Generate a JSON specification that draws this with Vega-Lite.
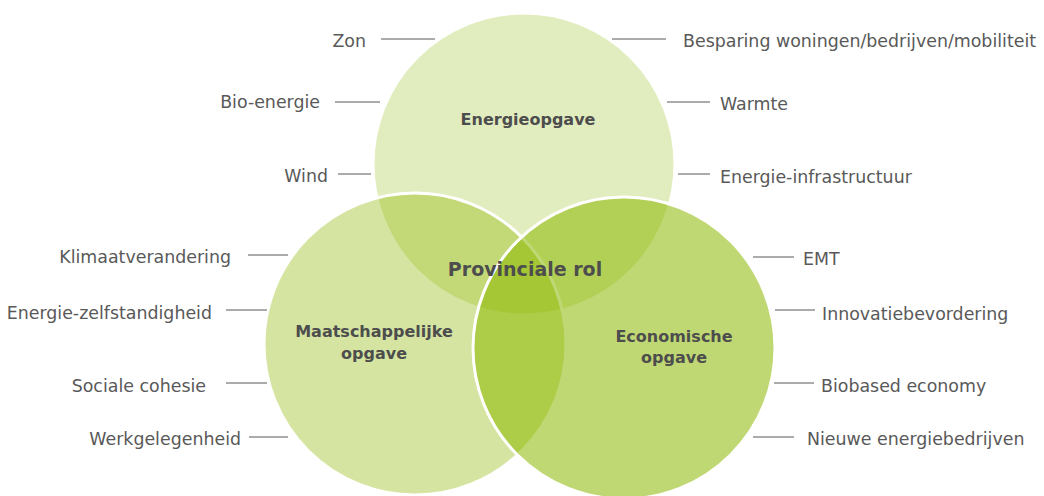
{
  "$schema": "https://vega.github.io/schema/vega-lite/v6.json",
  "width": 1044,
  "height": 496,
  "padding": 0,
  "autosize": {"type": "none"},
  "background": "white",
  "config": {"view": {"stroke": null}},
  "datasets": {
    "circles": [
      {"name": "Energieopgave", "cx": 524, "cy": 164, "weight": 1},
      {"name": "Maatschappelijke opgave", "cx": 415, "cy": 344, "weight": 1},
      {"name": "Economische opgave", "cx": 624, "cy": 348, "weight": 1}
    ],
    "labels": [
      {"label": "Zon", "side": "L", "tx": 366, "ty": 42, "lx1": 381, "lx2": 435, "ly": 39},
      {"label": "Bio-energie", "side": "L", "tx": 320, "ty": 103, "lx1": 335, "lx2": 380, "ly": 102},
      {"label": "Wind", "side": "L", "tx": 328, "ty": 177, "lx1": 338, "lx2": 371, "ly": 174},
      {"label": "Klimaatverandering", "side": "L", "tx": 231, "ty": 258, "lx1": 248, "lx2": 288, "ly": 255},
      {"label": "Energie-zelfstandigheid", "side": "L", "tx": 212, "ty": 314, "lx1": 226, "lx2": 267, "ly": 310},
      {"label": "Sociale cohesie", "side": "L", "tx": 206, "ty": 387, "lx1": 226, "lx2": 267, "ly": 383},
      {"label": "Werkgelegenheid", "side": "L", "tx": 241, "ty": 440, "lx1": 249, "lx2": 288, "ly": 437},
      {"label": "Besparing woningen/bedrijven/mobiliteit", "side": "R", "tx": 683, "ty": 42, "lx1": 612, "lx2": 666, "ly": 39},
      {"label": "Warmte", "side": "R", "tx": 720, "ty": 105, "lx1": 667, "lx2": 710, "ly": 102},
      {"label": "Energie-infrastructuur", "side": "R", "tx": 720, "ty": 178, "lx1": 678, "lx2": 710, "ly": 174},
      {"label": "EMT", "side": "R", "tx": 803, "ty": 260, "lx1": 753, "lx2": 794, "ly": 257},
      {"label": "Innovatiebevordering", "side": "R", "tx": 822, "ty": 315, "lx1": 775, "lx2": 815, "ly": 310},
      {"label": "Biobased economy", "side": "R", "tx": 821, "ty": 387, "lx1": 774, "lx2": 814, "ly": 383},
      {"label": "Nieuwe energiebedrijven", "side": "R", "tx": 807, "ty": 440, "lx1": 753, "lx2": 794, "ly": 437}
    ],
    "titles": [
      {"text": "Energieopgave", "kind": "region", "x": 528, "y": 120},
      {"text": "Maatschappelijke", "kind": "region", "x": 374, "y": 332},
      {"text": "opgave", "kind": "region", "x": 374, "y": 354},
      {"text": "Economische", "kind": "region", "x": 674, "y": 337},
      {"text": "opgave", "kind": "region", "x": 674, "y": 358},
      {"text": "Provinciale rol", "kind": "center", "x": 525, "y": 270}
    ]
  },
  "layer": [
    {
      "data": {"name": "circles"},
      "mark": {"type": "point", "shape": "circle", "filled": true, "stroke": "white", "strokeWidth": 3, "strokeOpacity": 1, "opacity": 1},
      "encoding": {
        "x": {"field": "cx", "type": "quantitative", "scale": {"domain": [0, 1044], "nice": false, "zero": false}, "axis": null},
        "y": {"field": "cy", "type": "quantitative", "scale": {"domain": [0, 496], "nice": false, "zero": false, "reverse": true}, "axis": null},
        "size": {"field": "weight", "type": "quantitative", "scale": {"domain": [0, 1], "range": [0, 91204]}, "legend": null},
        "fill": {"field": "name", "type": "nominal", "scale": {"domain": ["Energieopgave", "Maatschappelijke opgave", "Economische opgave"], "range": ["rgba(140,184,0,0.25)", "rgba(140,184,0,0.37)", "rgba(140,184,0,0.55)"]}, "legend": null}
      }
    },
    {
      "data": {"name": "labels"},
      "mark": {"type": "rule", "color": "#595959", "strokeWidth": 1},
      "encoding": {
        "x": {"field": "lx1", "type": "quantitative", "scale": {"domain": [0, 1044], "nice": false, "zero": false}, "axis": null},
        "x2": {"field": "lx2"},
        "y": {"field": "ly", "type": "quantitative", "scale": {"domain": [0, 496], "nice": false, "zero": false, "reverse": true}, "axis": null}
      }
    },
    {
      "data": {"name": "labels"},
      "transform": [{"filter": "datum.side === 'L'"}],
      "mark": {"type": "text", "align": "right", "baseline": "middle", "font": "DejaVu Sans", "fontSize": 17.4, "color": "#595959"},
      "encoding": {
        "x": {"field": "tx", "type": "quantitative", "scale": {"domain": [0, 1044], "nice": false, "zero": false}, "axis": null},
        "y": {"field": "ty", "type": "quantitative", "scale": {"domain": [0, 496], "nice": false, "zero": false, "reverse": true}, "axis": null},
        "text": {"field": "label"}
      }
    },
    {
      "data": {"name": "labels"},
      "transform": [{"filter": "datum.side === 'R'"}],
      "mark": {"type": "text", "align": "left", "baseline": "middle", "font": "DejaVu Sans", "fontSize": 17.4, "color": "#595959"},
      "encoding": {
        "x": {"field": "tx", "type": "quantitative", "scale": {"domain": [0, 1044], "nice": false, "zero": false}, "axis": null},
        "y": {"field": "ty", "type": "quantitative", "scale": {"domain": [0, 496], "nice": false, "zero": false, "reverse": true}, "axis": null},
        "text": {"field": "label"}
      }
    },
    {
      "data": {"name": "titles"},
      "transform": [{"filter": "datum.kind === 'region'"}],
      "mark": {"type": "text", "align": "center", "baseline": "middle", "font": "DejaVu Sans", "fontWeight": "bold", "fontSize": 16, "color": "#4d4d4d"},
      "encoding": {
        "x": {"field": "x", "type": "quantitative", "scale": {"domain": [0, 1044], "nice": false, "zero": false}, "axis": null},
        "y": {"field": "y", "type": "quantitative", "scale": {"domain": [0, 496], "nice": false, "zero": false, "reverse": true}, "axis": null},
        "text": {"field": "text"}
      }
    },
    {
      "data": {"name": "titles"},
      "transform": [{"filter": "datum.kind === 'center'"}],
      "mark": {"type": "text", "align": "center", "baseline": "middle", "font": "DejaVu Sans", "fontWeight": "bold", "fontSize": 19, "color": "#4d4d4d"},
      "encoding": {
        "x": {"field": "x", "type": "quantitative", "scale": {"domain": [0, 1044], "nice": false, "zero": false}, "axis": null},
        "y": {"field": "y", "type": "quantitative", "scale": {"domain": [0, 496], "nice": false, "zero": false, "reverse": true}, "axis": null},
        "text": {"field": "text"}
      }
    }
  ]
}
